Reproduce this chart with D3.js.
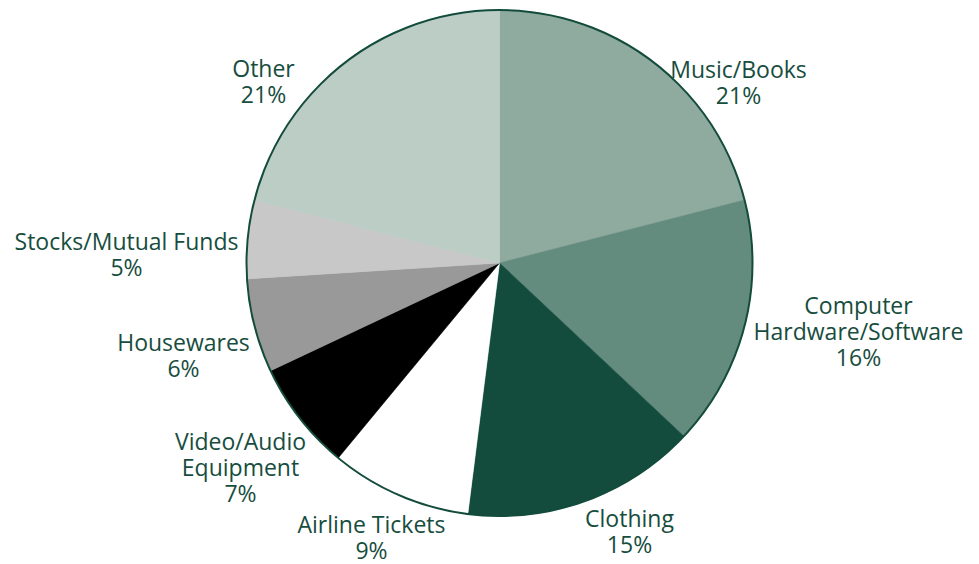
<!DOCTYPE html>
<html>
<head>
<meta charset="utf-8">
<script src="https://cdn.jsdelivr.net/npm/d3@7"></script>
<style>
  html, body { margin: 0; padding: 0; background: #fff; }
  svg { display: block; }
  text { font-family: "Open Sans", "Noto Sans", sans-serif; fill: #174d3e; }
</style>
</head>
<body>
<svg id="chart" width="979" height="564"></svg>
<script>
// Share of online purchases by category (percent)
const categories = [
  "Music/Books",
  "Computer Hardware/Software",
  "Clothing",
  "Airline Tickets",
  "Video/Audio Equipment",
  "Housewares",
  "Stocks/Mutual Funds",
  "Other"
];
const shares = [21, 16, 15, 9, 7, 6, 5, 21];

// label lines for each category (text wrapping as shown)
const labelLines = [
  ["Music/Books"],
  ["Computer", "Hardware/Software"],
  ["Clothing"],
  ["Airline Tickets"],
  ["Video/Audio", "Equipment"],
  ["Housewares"],
  ["Stocks/Mutual Funds"],
  ["Other"]
];

const sliceColors = ["#8faa9e", "#638b7e", "#134b3c", "#ffffff", "#000000", "#999999", "#c8c8c8", "#bccdc6"];

// label anchors: position of the first text line relative to the pie centre
const labelLayout = [
  { dx: 239, dy: -193 },
  { dx: 359, dy: 43 },
  { dx: 130, dy: 256 },
  { dx: -128, dy: 262 },
  { dx: -259, dy: 179 },
  { dx: -316, dy: 80 },
  { dx: -373, dy: -21 },
  { dx: -236, dy: -194 }
];

const svg = d3.select("#chart");
const cx = 499.5, cy = 263, radius = 253;
const lineHeight = 26;

const data = categories.map((c, i) => ({ category: c, value: shares[i], lines: labelLines[i], i }));

const pie = d3.pie().value(d => d.value).sort(null);
const arc = d3.arc().innerRadius(0).outerRadius(radius);

const g = svg.append("g").attr("transform", `translate(${cx},${cy})`);

g.selectAll("path.slice")
  .data(pie(data))
  .join("path")
  .attr("class", "slice")
  .attr("d", arc)
  .attr("fill", d => sliceColors[d.data.i])
  .attr("stroke", d => sliceColors[d.data.i])
  .attr("stroke-width", 0.6);

// outer rim
g.append("circle")
  .attr("r", radius)
  .attr("fill", "none")
  .attr("stroke", "#134b3c")
  .attr("stroke-width", 2);

// category labels with percentages
const labels = g.selectAll("text.label")
  .data(data)
  .join("text")
  .attr("class", "label")
  .attr("text-anchor", "middle")
  .attr("font-size", 23)
  .attr("transform", d => `translate(${labelLayout[d.i].dx},${labelLayout[d.i].dy})`);

labels.each(function(d) {
  const t = d3.select(this);
  const lines = d.lines.concat([d.value + "%"]);
  lines.forEach((line, k) => {
    t.append("tspan")
      .attr("x", 0)
      .attr("y", k * lineHeight)
      .attr("dy", "0.35em")
      .text(line);
  });
});
</script>
</body>
</html>
